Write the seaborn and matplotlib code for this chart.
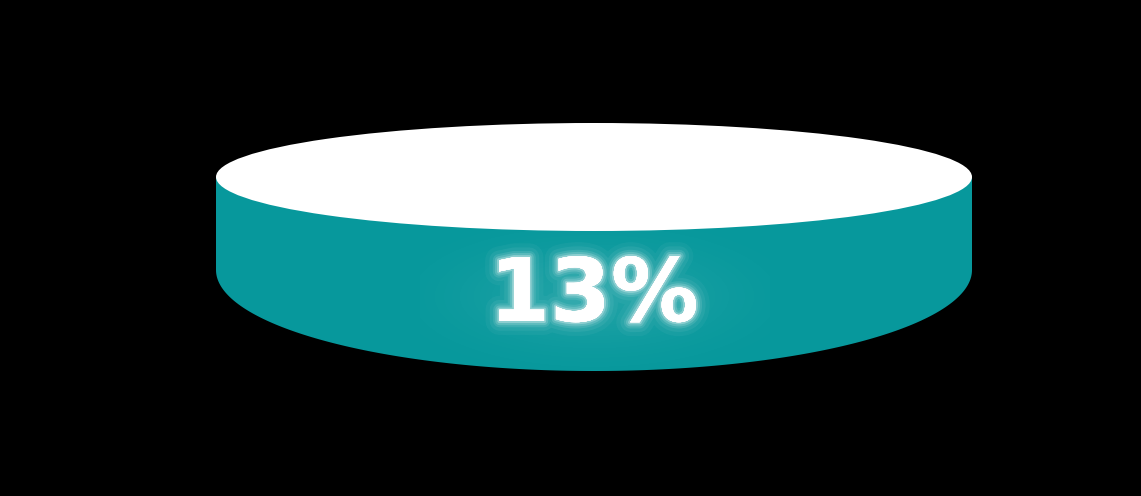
import numpy as np
import seaborn as sns
import matplotlib.pyplot as plt
from matplotlib.patches import Ellipse, Polygon
import matplotlib.patheffects as pe

# value shown on the disc
value = 13
label = f"{value}%"
teal = "#07989C"

sns.set_style("dark", {"axes.facecolor": "black", "figure.facecolor": "black"})

W, H = 1141, 496
fig = plt.figure(figsize=(W / 100, H / 100), dpi=100)
ax = fig.add_axes([0, 0, 1, 1])
ax.set_xlim(0, W)
ax.set_ylim(H, 0)
ax.axis("off")
fig.patch.set_facecolor("black")

cx, a = 594, 378
top_y, top_b = 177, 54
side_end, bot_b = 270, 101

# side of the cylinder: rectangle + lower half ellipse
t = np.linspace(0, np.pi, 200)
lower = np.column_stack([cx + a * np.cos(t), side_end + bot_b * np.sin(t)])
side = np.vstack([[cx + a, top_y], lower, [cx - a, top_y]])
ax.add_patch(Polygon(side, closed=True, facecolor=teal, edgecolor="none"))

# soft halo behind the label
yy, xx = np.mgrid[200:380, 420:770]
halo = np.exp(-(((xx - 594) / 125) ** 2 + ((yy - 296) / 48) ** 2))
rgba = np.zeros(halo.shape + (4,))
rgba[..., :3] = 1
rgba[..., 3] = 0.10 * halo
ax.imshow(rgba, extent=(420, 770, 380, 200), zorder=2, interpolation="bilinear")

# top face
ax.add_patch(Ellipse((cx, top_y), 2 * a, 2 * top_b, facecolor="white",
                     edgecolor="none", zorder=3))

glow = [pe.withStroke(linewidth=w, foreground="white", alpha=al)
        for w, al in [(20, 0.04), (14, 0.06), (9, 0.1), (6, 0.16), (3, 0.3)]]
txt = ax.text(594, 297, label, color="white", fontsize=63, fontweight="bold",
              family="DejaVu Sans", ha="center", va="center", zorder=4)
txt.set_path_effects(glow + [pe.Normal()])

fig.savefig("out.png", dpi=100, facecolor="black")
